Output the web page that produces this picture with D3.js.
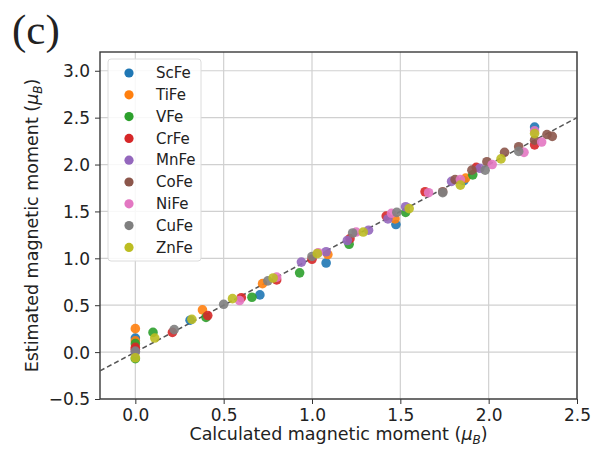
<!DOCTYPE html>
<html>
<head>
<meta charset="utf-8">
<script src="https://cdn.jsdelivr.net/npm/d3@7"></script>
<style>
  body { margin: 0; background: #fff; }
  text { font-family: "DejaVu Sans", sans-serif; fill: #222; }
</style>
</head>
<body>
<div id="chart"></div>
<script>
// tick values
const xTicks = [0.0, 0.5, 1.0, 1.5, 2.0, 2.5];
const yTicks = [-0.5, 0.0, 0.5, 1.0, 1.5, 2.0, 2.5, 3.0];

// series: [calculated, estimated]
const scFe = [[0,0.15],[0.31,0.34],[0.705,0.61],[1.08,0.95],[1.475,1.36],[1.86,1.83],[2.26,2.40]];
const tiFe = [[0,0.25],[0,0.12],[0.38,0.45],[0.72,0.73],[1.09,1.04],[1.47,1.42],[1.87,1.855]];
const vFe  = [[0,0.09],[0,-0.07],[0.10,0.21],[0.40,0.37],[0.66,0.585],[0.93,0.845],[1.21,1.15],[1.53,1.49],[1.91,1.89]];
const crFe = [[0,0.05],[0,0.03],[0.21,0.21],[0.41,0.39],[0.60,0.58],[0.80,0.77],[1.00,0.99],[1.215,1.21],[1.42,1.45],[1.64,1.71],[1.93,1.97],[2.26,2.21]];
const mnFe = [[0,0.0],[0.94,0.96],[1.08,1.07],[1.20,1.19],[1.32,1.30],[1.43,1.42],[1.53,1.55],[1.79,1.82],[1.95,1.96]];
const coFe = [[1.74,1.71],[1.81,1.84],[1.905,1.94],[1.99,2.03],[2.09,2.13],[2.17,2.19],[2.26,2.26],[2.33,2.32],[2.36,2.30]];
const niFe = [[0.59,0.55],[0.80,0.80],[1.035,1.06],[1.25,1.28],[1.45,1.48],[1.66,1.70],[1.84,1.84],[2.02,2.00],[2.20,2.13],[2.26,2.36],[2.30,2.24]];
const cuFe = [[0,0.01],[0.22,0.24],[0.50,0.51],[0.75,0.76],[1.00,1.02],[1.23,1.27],[1.48,1.49],[1.74,1.70],[1.98,1.94],[2.17,2.14]];
const znFe = [[0,-0.06],[0.11,0.15],[0.32,0.35],[0.55,0.57],[0.78,0.79],[1.03,1.05],[1.29,1.28],[1.55,1.53],[1.84,1.78],[2.07,2.06],[2.26,2.33]];

const names = ['ScFe','TiFe','VFe','CrFe','MnFe','CoFe','NiFe','CuFe','ZnFe'];
const seriesData = [scFe, tiFe, vFe, crFe, mnFe, coFe, niFe, cuFe, znFe];
const colors = ['#1f77b4','#ff7f0e','#2ca02c','#d62728','#9467bd','#8c564b','#e377c2','#7f7f7f','#bcbd22'];

const width = 592, height = 449;
const margin = { top: 52, right: 15, bottom: 50, left: 100 };

const svg = d3.select('#chart').append('svg')
    .attr('width', width)
    .attr('height', height);

const x = d3.scaleLinear()
    .domain([-0.2, 2.5])
    .range([margin.left, width - margin.right]);

const y = d3.scaleLinear()
    .domain([-0.5, 3.2])
    .range([height - margin.bottom, margin.top]);

// grid
svg.append('g')
    .selectAll('line')
    .data(xTicks)
    .join('line')
    .attr('x1', d => x(d)).attr('x2', d => x(d))
    .attr('y1', y(3.2)).attr('y2', y(-0.5))
    .attr('stroke', '#d0d0d0').attr('stroke-width', 1.2);

svg.append('g')
    .selectAll('line')
    .data(yTicks)
    .join('line')
    .attr('y1', d => y(d)).attr('y2', d => y(d))
    .attr('x1', x(-0.2)).attr('x2', x(2.5))
    .attr('stroke', '#d0d0d0').attr('stroke-width', 1.2);

// axes
const xAxisG = svg.append('g')
    .attr('transform', `translate(0,${height - margin.bottom})`)
    .call(d3.axisBottom(x).tickValues(xTicks).tickFormat(d3.format('.1f')).tickSize(5).tickPadding(5));

const yAxisG = svg.append('g')
    .attr('transform', `translate(${margin.left},0)`)
    .call(d3.axisLeft(y).tickValues(yTicks).tickFormat(d3.format('.1f')).tickSize(5).tickPadding(5));

[xAxisG, yAxisG].forEach(g => {
    g.select('.domain').remove();
    g.selectAll('line').attr('stroke', '#333');
    g.selectAll('text')
        .style('font-family', '"DejaVu Sans", sans-serif')
        .style('font-size', '17px')
        .attr('fill', '#222');
});
yAxisG.selectAll('text').attr('dy', '0.35em');

// frame
svg.append('rect')
    .attr('x', x(-0.2)).attr('y', y(3.2))
    .attr('width', x(2.5) - x(-0.2))
    .attr('height', y(-0.5) - y(3.2))
    .attr('fill', 'none')
    .attr('stroke', '#3a3a3a')
    .attr('stroke-width', 1.4);

// y = x reference line
const diag = [-0.2, 2.5];
svg.append('line')
    .attr('x1', x(diag[0])).attr('y1', y(diag[0]))
    .attr('x2', x(diag[1])).attr('y2', y(diag[1]))
    .attr('stroke', '#555')
    .attr('stroke-width', 1.5)
    .attr('stroke-dasharray', '5,3');

// points
const plot = svg.append('g');
seriesData.forEach((pts, i) => {
    plot.append('g')
        .selectAll('circle')
        .data(pts)
        .join('circle')
        .attr('cx', d => x(d[0]))
        .attr('cy', d => y(d[1]))
        .attr('r', 4.8)
        .attr('fill', colors[i])
        .attr('fill-opacity', 0.9);
});

// legend
const legend = svg.append('g');
legend.append('rect')
    .attr('x', 108).attr('y', 59)
    .attr('width', 93).attr('height', 202)
    .attr('rx', 3)
    .attr('fill', '#fff').attr('fill-opacity', 0.85)
    .attr('stroke', '#dcdcdc');

names.forEach((n, i) => {
    const ly = 73 + i * 21.8;
    legend.append('circle')
        .attr('cx', 129).attr('cy', ly).attr('r', 4.6)
        .attr('fill', colors[i]);
    legend.append('text')
        .attr('x', 156).attr('y', ly)
        .attr('dy', '0.35em')
        .style('font-size', '15px')
        .text(n);
});

// axis titles
function muLabel(sel, prefix) {
    sel.append('tspan').text(prefix + ' (');
    sel.append('tspan').style('font-style', 'italic').text('μ');
    sel.append('tspan').style('font-style', 'italic').style('font-size', '12px')
        .attr('dy', 4).text('B');
    sel.append('tspan').attr('dy', -4).text(')');
}

const xt = svg.append('text')
    .attr('x', (x(-0.2) + x(2.5)) / 2)
    .attr('y', 440)
    .attr('text-anchor', 'middle')
    .style('font-size', '17.5px');
muLabel(xt, 'Calculated magnetic moment');

const yt = svg.append('text')
    .attr('transform', `translate(38,${(y(-0.5) + y(3.2)) / 2}) rotate(-90)`)
    .attr('text-anchor', 'middle')
    .style('font-size', '17.5px');
muLabel(yt, 'Estimated magnetic moment');

// panel label
svg.append('text')
    .attr('x', 12).attr('y', 44)
    .style('font-family', '"Liberation Serif", "Times New Roman", serif')
    .style('font-size', '43px')
    .attr('fill', '#111')
    .text('(c)');
</script>
</body>
</html>
